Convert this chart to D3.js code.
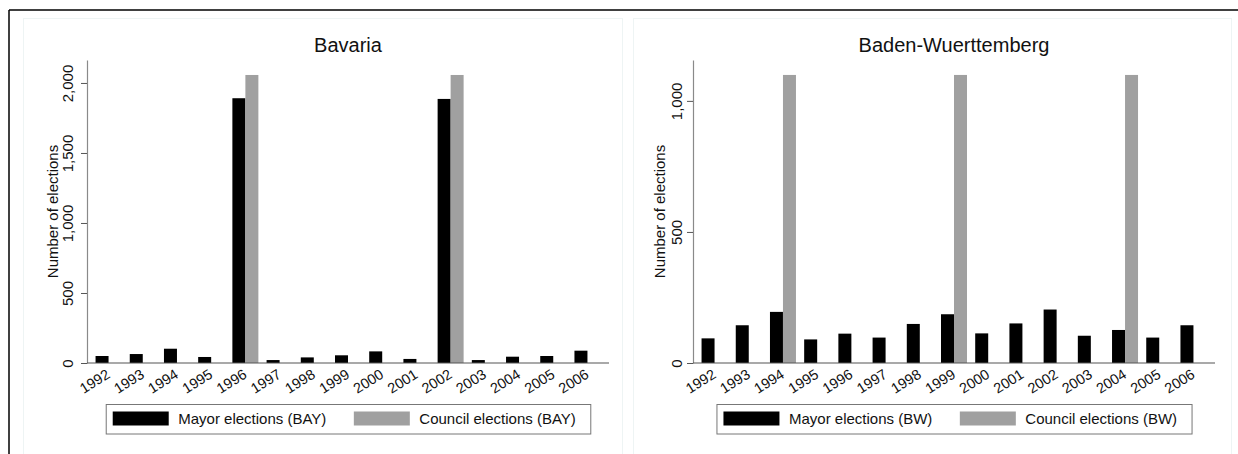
<!DOCTYPE html>
<html>
<head>
<meta charset="utf-8">
<script src="https://cdn.jsdelivr.net/npm/d3@7/dist/d3.min.js"></script>
<style>
  html, body { margin: 0; padding: 0; background: #fff; }
  svg { display: block; font-family: "Liberation Sans", Arial, sans-serif; }
</style>
</head>
<body>
<svg id="chart" width="1238" height="454"></svg>
<script>
// ---- data ----
const years = [1992, 1993, 1994, 1995, 1996, 1997, 1998, 1999, 2000, 2001, 2002, 2003, 2004, 2005, 2006];
const bayMayor   = [50, 64, 102, 43, 1891, 21, 40, 55, 83, 29, 1886, 21, 45, 50, 88];
const bayCouncil = [0, 0, 0, 0, 2057, 0, 0, 0, 0, 0, 2057, 0, 0, 0, 0];
const bwMayor    = [94, 144, 195, 90, 112, 97, 149, 186, 113, 151, 204, 104, 126, 97, 144];
const bwCouncil  = [0, 0, 1099, 0, 0, 0, 0, 1099, 0, 0, 0, 0, 1099, 0, 0];
const bayTicks = [0, 500, 1000, 1500, 2000];
const bwTicks  = [0, 500, 1000];
const bayMax = 2164;
const bwMax  = 1156;
const titles = ["Bavaria", "Baden-Wuerttemberg"];
const yTitle = "Number of elections";
const bayLegend = ["Mayor elections (BAY)", "Council elections (BAY)"];
const bwLegend  = ["Mayor elections (BW)", "Council elections (BW)"];

// ---- styling ----
const COLORS = { mayor: "#000000", council: "#a0a0a0" };
const svg = d3.select("#chart");

// outer frame (top and left edges)
svg.append("line").attr("x1", 9).attr("x2", 1238).attr("y1", 10).attr("y2", 10)
  .attr("stroke", "#000").attr("stroke-width", 1.5);
svg.append("line").attr("x1", 9).attr("x2", 9).attr("y1", 10).attr("y2", 454)
  .attr("stroke", "#000").attr("stroke-width", 1.5);

// faint panel boxes
[[23, 622], [633, 1231]].forEach(([x0, x1]) => {
  svg.append("rect").attr("x", x0 + 0.5).attr("y", 18.5).attr("width", x1 - x0).attr("height", 440)
    .attr("fill", "none").attr("stroke", "#eef4f4").attr("stroke-width", 1);
});

function drawPanel(cfg) {
  const top = 60, bottom = 363, width = 522;
  const left = cfg.axisX;
  const g = svg.append("g");

  const x = d3.scalePoint().domain(years).range([left, left + width]).padding(0.63);
  const xSub = d3.scaleBand().domain(["mayor", "council"]).range([-13, 13]).padding(0);
  const y = d3.scaleLinear().domain([0, cfg.yMax]).range([bottom, top]);

  // bars
  const rows = years.map((yr, i) => ({ year: yr, mayor: cfg.mayor[i], council: cfg.council[i] }));
  const groups = g.append("g").selectAll("g").data(rows).join("g")
    .attr("transform", d => `translate(${x(d.year)},0)`);
  groups.selectAll("rect")
    .data(d => ["mayor", "council"].map(k => ({ key: k, value: d[k] })).filter(e => e.value > 0))
    .join("rect")
    .attr("x", d => xSub(d.key))
    .attr("width", xSub.bandwidth())
    .attr("y", d => y(d.value))
    .attr("height", d => y(0) - y(d.value))
    .attr("fill", d => COLORS[d.key]);

  // y axis
  const ya = g.append("g").attr("transform", `translate(${left},0)`)
    .call(d3.axisLeft(y).tickValues(cfg.ticks).tickSize(6).tickSizeOuter(0).tickFormat(d3.format(",")));
  ya.select(".domain").attr("stroke", "#8a8a8a").attr("stroke-width", 1.2);
  ya.selectAll(".tick line").attr("stroke", "#555");
  ya.selectAll(".tick text")
    .attr("transform", "rotate(-90)")
    .attr("x", 0).attr("y", cfg.tickLabelOffset).attr("dy", 0)
    .attr("text-anchor", "middle")
    .attr("font-size", 15).attr("fill", "#111")
    .attr("font-family", "Liberation Sans, Arial, sans-serif");

  // x axis
  const xa = g.append("g").attr("transform", `translate(0,${bottom})`)
    .call(d3.axisBottom(x).tickSize(0).tickSizeOuter(0));
  xa.select(".domain").attr("stroke", "#555").attr("stroke-width", 1.2)
    .attr("d", `M${left},0H${left + width}`);
  xa.selectAll(".tick text")
    .attr("x", 0).attr("y", 0).attr("dy", 0)
    .attr("text-anchor", "end")
    .attr("transform", "translate(2,14) rotate(-32)")
    .attr("font-size", 14.5).attr("fill", "#111")
    .attr("font-family", "Liberation Sans, Arial, sans-serif");

  // title
  g.append("text").attr("x", left + width / 2).attr("y", 52)
    .attr("text-anchor", "middle").attr("font-size", 20).attr("fill", "#111")
    .text(cfg.title);

  // y title
  g.append("text")
    .attr("transform", `translate(${left + cfg.yTitleOffset},${(top + bottom) / 2}) rotate(-90)`)
    .attr("text-anchor", "middle").attr("font-size", 15).attr("fill", "#111")
    .text(yTitle);

  // legend
  const lg = g.append("g");
  const boxY = 404, boxH = 29.5, swW = 56, swH = 14;
  const box = lg.append("rect").attr("y", boxY + 0.5).attr("height", boxH)
    .attr("fill", "#fff").attr("stroke", "#777").attr("stroke-width", 1);
  let cx = 7;
  const items = [["mayor", cfg.legend[0]], ["council", cfg.legend[1]]];
  items.forEach(([k, label], i) => {
    lg.append("rect").attr("x", cx).attr("y", boxY + 7.5).attr("width", swW).attr("height", swH)
      .attr("fill", COLORS[k]);
    cx += swW + 9.5;
    const t = lg.append("text").attr("x", cx).attr("y", boxY + 19.8)
      .attr("font-size", 15).attr("fill", "#111").text(label);
    cx += t.node().getComputedTextLength();
    cx += (i === 0) ? 27.5 : 14.5;
  });
  box.attr("x", 0.5).attr("width", cx);
  lg.attr("transform", `translate(${left + width / 2 - cx / 2},0)`);
}

drawPanel({ title: titles[0], mayor: bayMayor, council: bayCouncil, ticks: bayTicks, yMax: bayMax,
  axisX: 87, legend: bayLegend, tickLabelOffset: -14.5, yTitleOffset: -29 });
drawPanel({ title: titles[1], mayor: bwMayor, council: bwCouncil, ticks: bwTicks, yMax: bwMax,
  axisX: 693, legend: bwLegend, tickLabelOffset: -11.5, yTitleOffset: -28 });
</script>
</body>
</html>
